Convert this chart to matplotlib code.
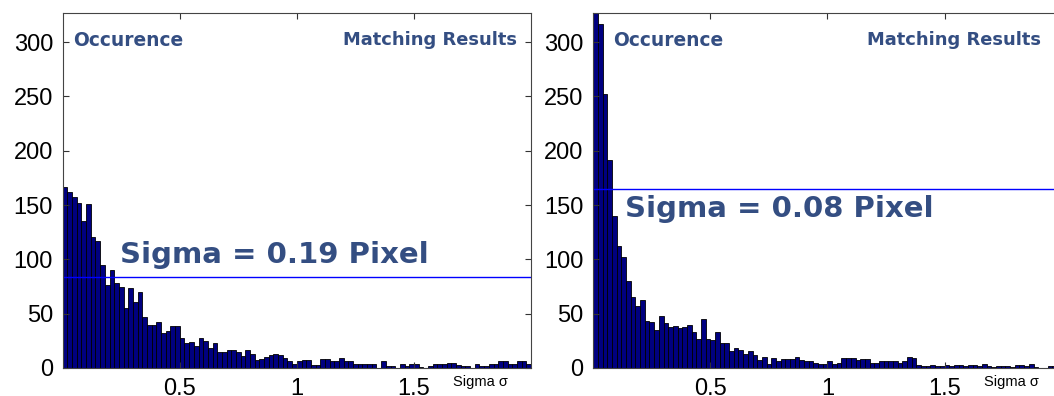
import numpy as np
import matplotlib
matplotlib.use("Agg")
import matplotlib.pyplot as plt

# ---- data (histogram counts, 100 bins of width 0.02 from 0 to 2) ----
left_counts = [167, 162, 157, 152, 135, 151, 121, 117, 95, 76, 90, 78, 75,
               55, 74, 61, 70, 47, 40, 40, 42, 32, 34, 39, 39,
               28, 23, 24, 20, 28, 25, 18, 23, 15, 15, 17, 17, 15, 11, 17, 13, 7,
               8, 10, 12, 13, 12, 9, 6, 4, 6,
               7, 7, 3, 3, 8, 8, 6, 6, 9, 6, 6, 4, 4, 4, 4, 4, 0, 6, 2, 2, 0, 4, 2,
               4, 4, 1, 0, 2, 4, 4, 4, 5, 5, 3, 2, 2, 0, 4, 2, 2, 4, 4, 6, 6, 4, 4,
               6, 6, 4]
right_counts = [340, 317, 252, 191, 140, 112, 102, 80, 65, 57, 63,
                43, 42, 35, 48, 41, 38, 39, 37, 38, 40, 33, 27, 45, 27, 26, 33, 23,
                23, 16, 18, 17, 13, 16, 12, 7, 10, 4, 9, 6, 8, 8, 8, 10,
                7, 6, 6, 5, 4, 4, 6, 4, 5, 9, 9, 9, 7, 8, 8, 5, 5, 6, 6, 6, 6, 5, 6,
                10, 9, 3, 2, 2, 3, 2, 2, 3, 2, 3, 3, 2, 3, 3, 2, 4, 2, 1, 2, 2, 2, 1,
                3, 3, 2, 4, 1, 0, 0, 2, 2, 2]
sigma_levels = [84, 165]
sigma_labels = ["Sigma = 0.19 Pixel", "Sigma = 0.08 Pixel"]
bin_range = (0.0, 2.0)
n_bins = 100
x_ticks = [0.5, 1, 1.5]
x_tick_labels = ["0.5", "1", "1.5"]
y_ticks = [0, 50, 100, 150, 200, 250, 300]
y_max = 327

text_color = "#344E82"
bar_color = "#000080"

fig = plt.figure(figsize=(10.54, 3.96), dpi=100)
W, H = 1054.0, 396.0

edges = np.linspace(bin_range[0], bin_range[1], n_bins + 1)
width = edges[1] - edges[0]

panels = [
    dict(counts=left_counts, left=62.7, level=sigma_levels[0], label=sigma_labels[0],
         occ_x=0.0226, mr_x=0.9695, sig_x=0.1224, sig_y=0.2947),
    dict(counts=right_counts, left=593.3, level=sigma_levels[1], label=sigma_labels[1],
         occ_x=0.0414, mr_x=0.956, sig_x=0.0677, sig_y=0.425),
]

ax_w_px = 468.3
bottom_px = 368.0
top_px = 12.7

for p in panels:
    ax = fig.add_axes([p["left"] / W, (H - bottom_px) / H, ax_w_px / W,
                       (bottom_px - top_px) / H])
    ax.bar(edges[:-1], p["counts"], width=width, align="edge",
           color=bar_color, edgecolor="black", linewidth=0.6)
    ax.axhline(p["level"], color="#0000FF", linewidth=1.0)
    ax.set_xlim(bin_range)
    ax.set_ylim(0, y_max)
    ax.set_xticks(x_ticks)
    ax.set_xticklabels(x_tick_labels)
    ax.set_yticks(y_ticks)
    ax.tick_params(direction="in", length=4, width=0.8, top=True, right=True,
                   labelsize=17, pad=7, color="#333333")
    for lab in ax.get_xticklabels() + ax.get_yticklabels():
        lab.set_fontfamily("Liberation Sans")
    for s in ax.spines.values():
        s.set_color("#444444")
        s.set_linewidth(0.8)

    ax.text(p["occ_x"], 0.923, "Occurence", transform=ax.transAxes,
            ha="left", va="center", fontsize=13.4, fontweight="bold",
            family="DejaVu Sans", color=text_color)
    ax.text(p["mr_x"], 0.923, "Matching Results", transform=ax.transAxes,
            ha="right", va="center", fontsize=12.9, fontweight="bold",
            family="DejaVu Sans", color=text_color)
    ax.text(p["sig_x"], p["sig_y"], p["label"], transform=ax.transAxes,
            ha="left", va="baseline", fontsize=21, fontweight="bold",
            family="DejaVu Sans", color=text_color)
    ax.text(0.8334, -0.0507, "Sigma \u03c3", transform=ax.transAxes,
            ha="left", va="baseline", fontsize=10.5,
            family="Liberation Sans", color="black", clip_on=False)

fig.savefig("out.png", dpi=100)
